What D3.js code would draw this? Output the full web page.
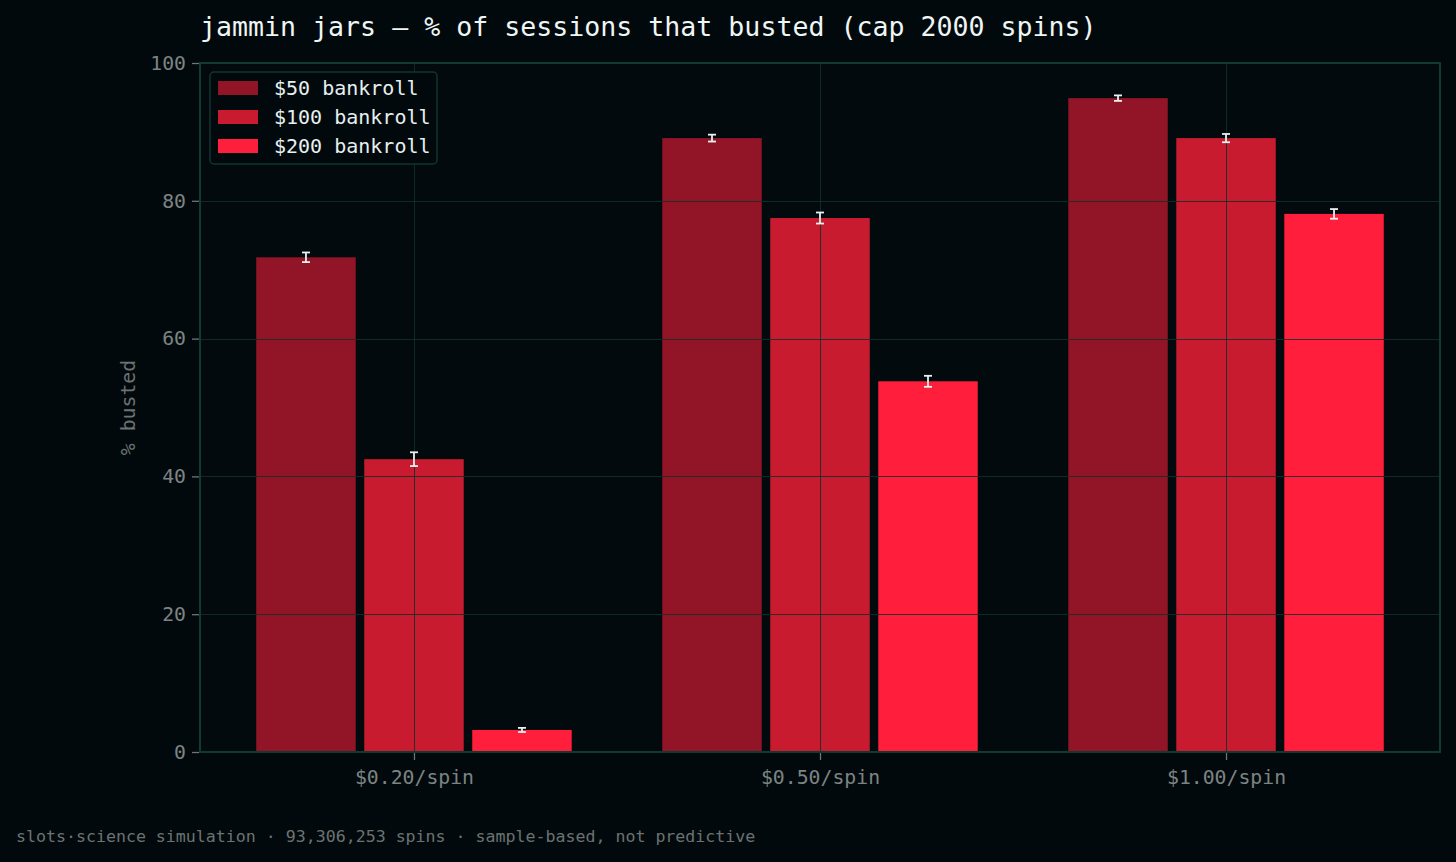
<!DOCTYPE html>
<html><head><meta charset="utf-8">
<script src="https://cdn.jsdelivr.net/npm/d3@7"></script>
<style>
html,body{margin:0;padding:0;background:#02090c;}
svg{display:block;}
</style></head>
<body>
<svg id="chart" width="1456" height="862"></svg>
<script>
const categories = ["$0.20/spin", "$0.50/spin", "$1.00/spin"];
const seriesNames = ["$50 bankroll", "$100 bankroll", "$200 bankroll"];
const seriesColors = ["#921527", "#c91b30", "#ff1f3d"];
const values50 = [71.8, 89.1, 94.9];
const values100 = [42.5, 77.5, 89.1];
const values200 = [3.2, 53.8, 78.1];
const err50 = [0.7, 0.5, 0.4];
const err100 = [1.0, 0.8, 0.6];
const err200 = [0.3, 0.8, 0.7];
const yTicks = [0, 20, 40, 60, 80, 100];
const titleText = "jammin jars — % of sessions that busted (cap 2000 spins)";
const yLabel = "% busted";
const footerText = "slots·science simulation · 93,306,253 spins · sample-based, not predictive";

const series = [
  {name: seriesNames[0], color: seriesColors[0], vals: values50, errs: err50},
  {name: seriesNames[1], color: seriesColors[1], vals: values100, errs: err100},
  {name: seriesNames[2], color: seriesColors[2], vals: values200, errs: err200}
];

const svg = d3.select("#chart");
const L = 200, R = 1440, T = 63, B = 752;
const font = "'DejaVu Sans Mono', monospace";

const x = d3.scaleLinear().domain([-0.527, 2.527]).range([L, R]);
const y = d3.scaleLinear().domain([0, 100]).range([B, T]);
const barW = 0.245, barStep = 0.266;

svg.append("rect").attr("width", 1456).attr("height", 862).attr("fill", "#02090c");
svg.append("rect").attr("x", L).attr("y", T).attr("width", R - L).attr("height", B - T).attr("fill", "#020a0d");

// bars
series.forEach((s, si) => {
  svg.append("g").selectAll("rect").data(s.vals).join("rect")
    .attr("x", (d, i) => x(i + (si - 1) * barStep - barW / 2))
    .attr("width", x(barW) - x(0))
    .attr("y", d => y(d))
    .attr("height", d => y(0) - y(d))
    .attr("fill", s.color);
});

// grid (on top)
const grid = svg.append("g").attr("stroke", "#0f3029").attr("stroke-opacity", 0.85).attr("stroke-width", 1);
grid.selectAll("line.h").data(yTicks.slice(1, -1)).join("line")
  .attr("x1", L).attr("x2", R).attr("y1", d => Math.round(y(d)) + 0.5).attr("y2", d => Math.round(y(d)) + 0.5);
grid.selectAll("line.v").data(categories).join("line")
  .attr("y1", T).attr("y2", B).attr("x1", (d, i) => Math.round(x(i)) + 0.5).attr("x2", (d, i) => Math.round(x(i)) + 0.5);

// error bars
series.forEach((s, si) => {
  const g = svg.append("g").attr("stroke", "#e6f2f0").attr("stroke-width", 1.8);
  s.vals.forEach((v, i) => {
    const cx = x(i + (si - 1) * barStep);
    const e = s.errs[i];
    g.append("line").attr("x1", cx).attr("x2", cx).attr("y1", y(v + e)).attr("y2", y(v - e));
    g.append("line").attr("x1", cx - 4).attr("x2", cx + 4).attr("y1", y(v + e)).attr("y2", y(v + e));
    g.append("line").attr("x1", cx - 4).attr("x2", cx + 4).attr("y1", y(v - e)).attr("y2", y(v - e));
  });
});

// frame
svg.append("rect").attr("x", L).attr("y", T).attr("width", R - L).attr("height", B - T)
  .attr("fill", "none").attr("stroke", "#113a32").attr("stroke-width", 2);

// y axis
const yAxis = d3.axisLeft(y).tickValues(yTicks).tickSize(7).tickPadding(6);
const ya = svg.append("g").attr("transform", `translate(${L - 1},0)`).call(yAxis);
ya.select(".domain").remove();
ya.selectAll("line").attr("stroke", "#6e7675").attr("stroke-width", 1.3);
ya.selectAll("text").attr("fill", "#7c8483").attr("font-family", font).attr("font-size", 19.8);

// x axis
const xAxis = d3.axisBottom(x).tickValues([0, 1, 2]).tickFormat(i => categories[i]).tickSize(7).tickPadding(10);
const xa = svg.append("g").attr("transform", `translate(0,${B + 1})`).call(xAxis);
xa.select(".domain").remove();
xa.selectAll("line").attr("stroke", "#6e7675").attr("stroke-width", 1.3);
xa.selectAll("text").attr("fill", "#7c8483").attr("font-family", font).attr("font-size", 19.8);

// y label
svg.append("text").attr("transform", `translate(135,${(T + B) / 2}) rotate(-90)`)
  .attr("text-anchor", "middle").attr("fill", "#6b7372").attr("font-family", font).attr("font-size", 19.8)
  .text(yLabel);

// title
svg.append("text").attr("x", 200).attr("y", 36).attr("fill", "#eef6f5")
  .attr("font-family", font).attr("font-size", 26.6).text(titleText);

// footer
svg.append("text").attr("x", 16).attr("y", 842).attr("fill", "#6b7372")
  .attr("font-family", font).attr("font-size", 16.6).text(footerText);

// legend
const lg = svg.append("g");
lg.append("rect").attr("x", 210).attr("y", 72).attr("width", 227).attr("height", 92).attr("rx", 4)
  .attr("fill", "#02090c").attr("stroke", "#12352f").attr("stroke-width", 1.5);
series.forEach((s, si) => {
  const cy = 88 + si * 29;
  lg.append("rect").attr("x", 218).attr("y", cy - 7).attr("width", 40).attr("height", 14).attr("fill", s.color);
  lg.append("text").attr("x", 274).attr("y", cy + 7).attr("fill", "#e6f0ef")
    .attr("font-family", font).attr("font-size", 20).text(s.name);
});
</script>
</body></html>
